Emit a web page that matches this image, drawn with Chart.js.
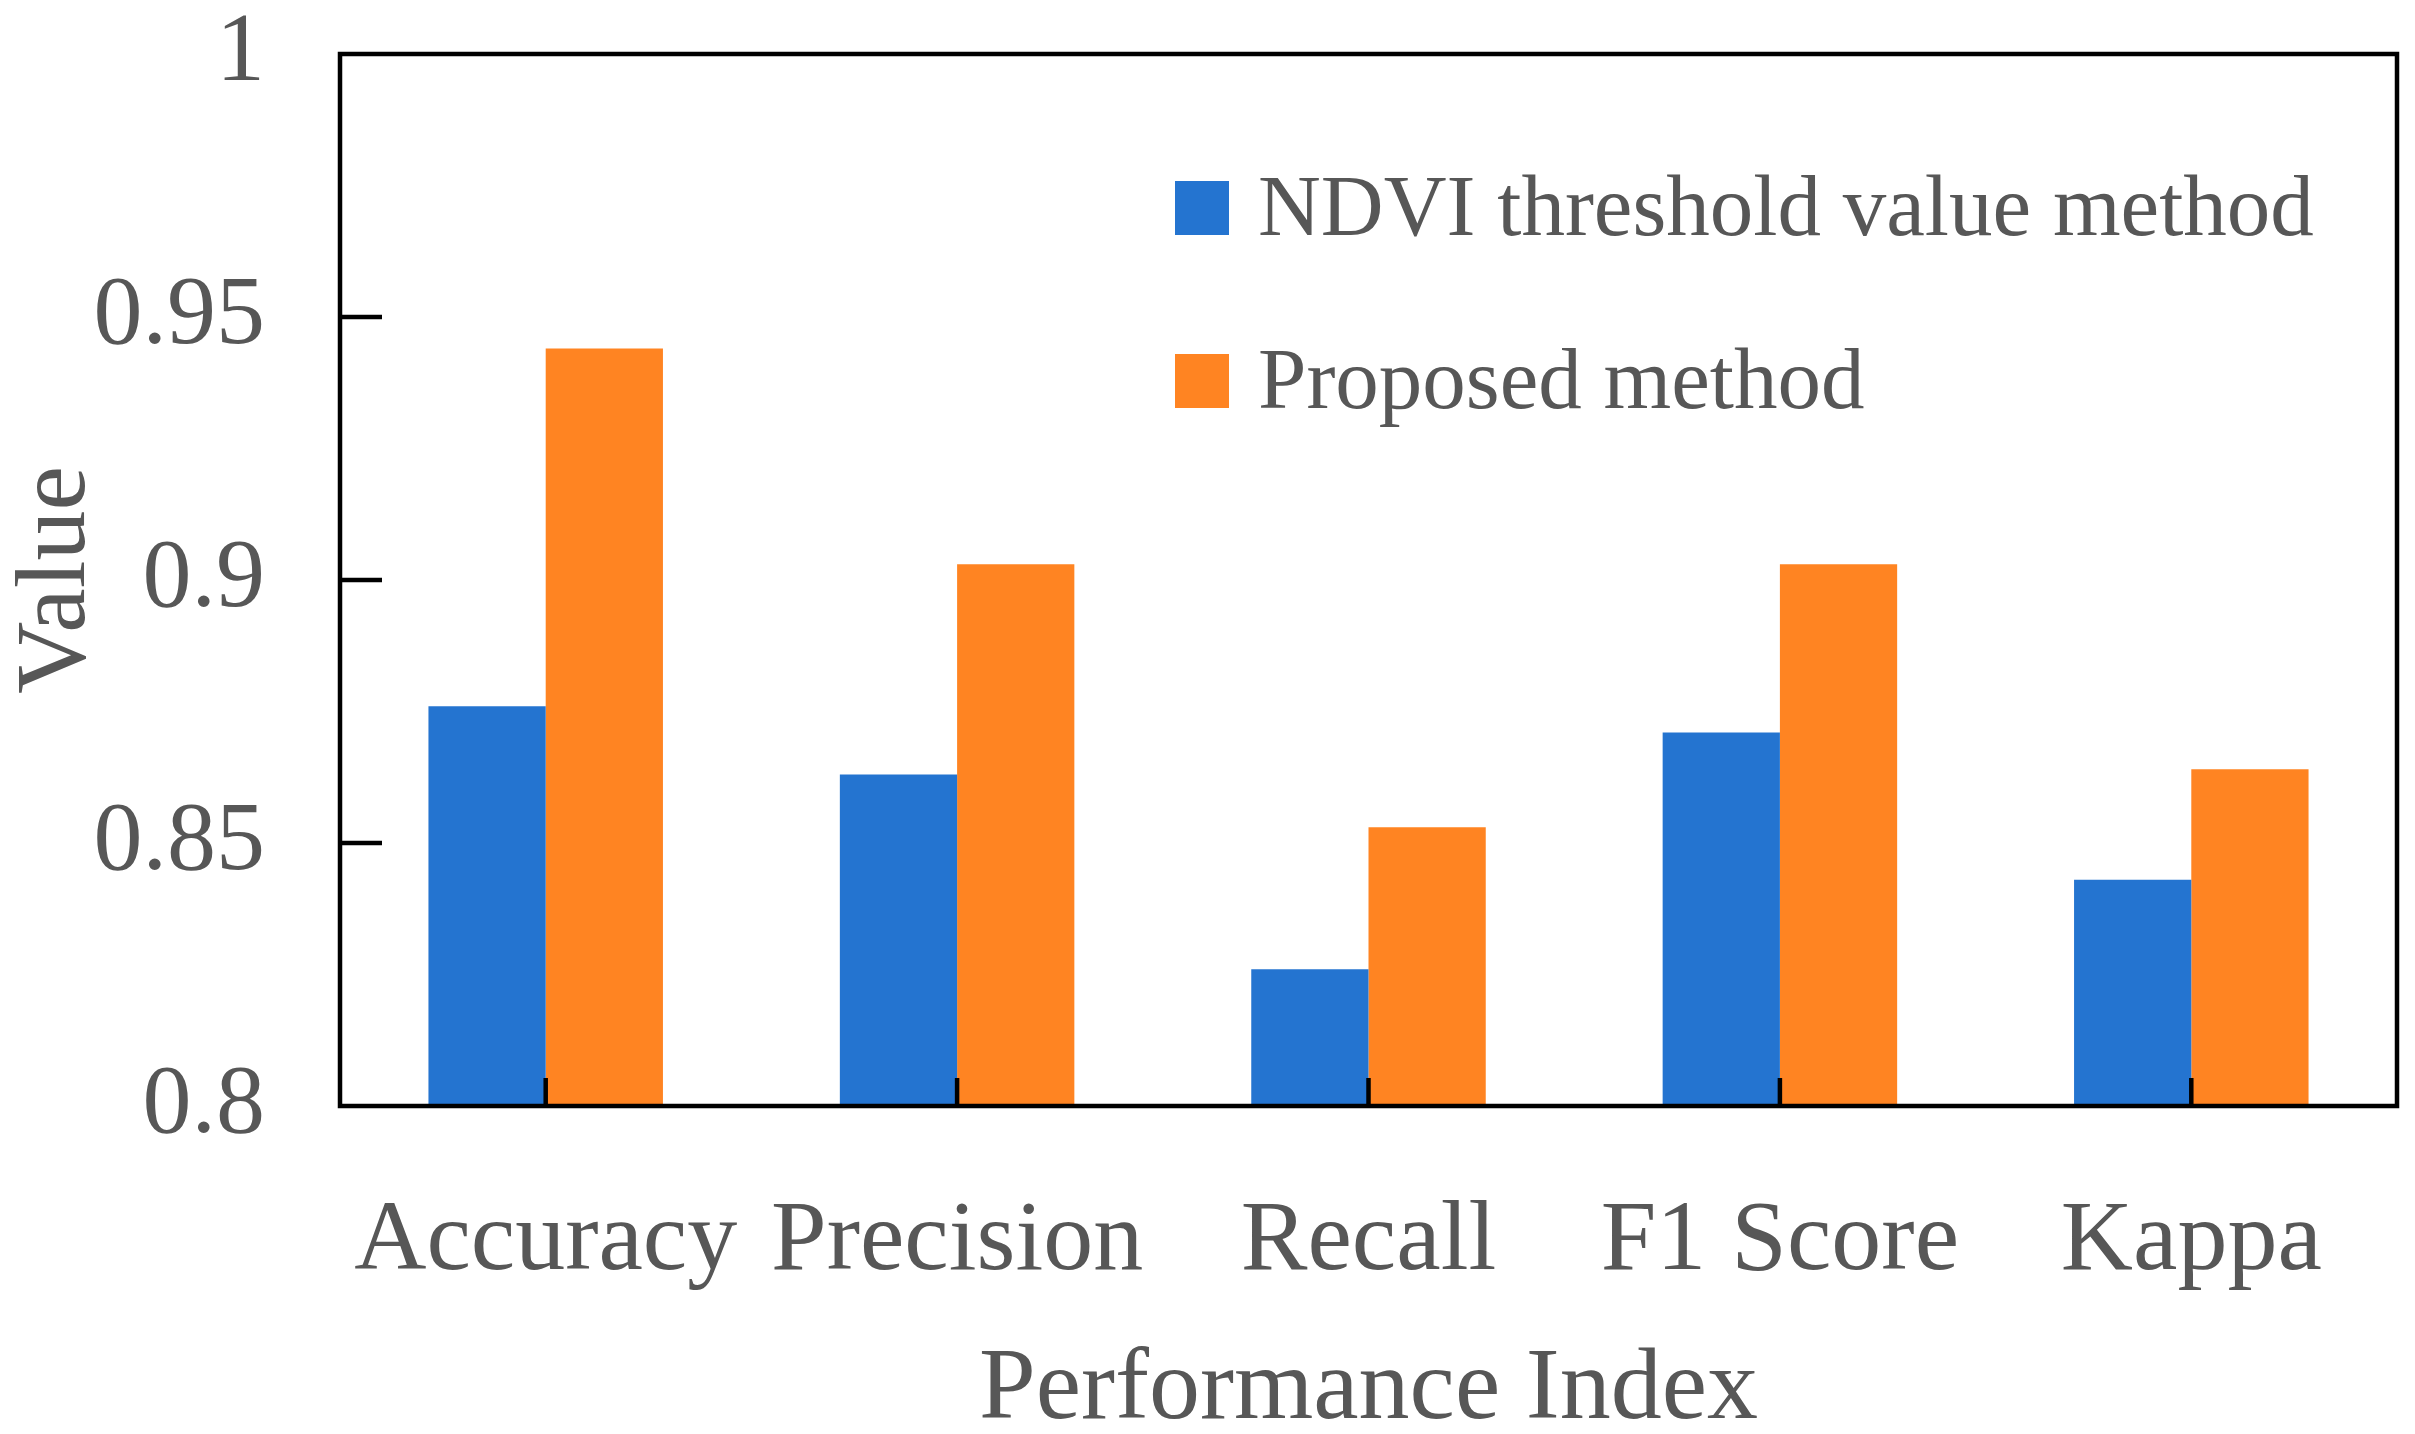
<!DOCTYPE html>
<html>
<head>
<meta charset="utf-8">
<script src="https://cdn.jsdelivr.net/npm/chart.js@4.4.1/dist/chart.umd.min.js"></script>
<style>
  html, body { margin: 0; padding: 0; background: #fff; }
  canvas { display: block; }
</style>
</head>
<body>
<canvas id="myChart" width="2415" height="1434"></canvas>
<script>
// données
const categories = ['Accuracy', 'Precision', 'Recall', 'F1 Score', 'Kappa'];
const ndviValues = [0.876, 0.863, 0.826, 0.871, 0.843];
const proposedValues = [0.944, 0.903, 0.853, 0.903, 0.864];
const seriesNames = ['NDVI threshold value method', 'Proposed method'];
const yTickLabels = ['0.8', '0.85', '0.9', '0.95', '1'];

const textColor = '#575757';
const serif = "'Liberation Serif', 'Times New Roman', serif";

// cadre noir + graduations vers l'intérieur
const frameTicks = {
    id: 'frameTicks',
    afterDatasetsDraw(chart) {
        const ctx = chart.ctx;
        const a = chart.chartArea;
        const x = chart.scales.x;
        const y = chart.scales.y;
        ctx.save();
        ctx.strokeStyle = '#000';
        ctx.lineWidth = 4.5;
        ctx.strokeRect(a.left, a.top, a.right - a.left, a.bottom - a.top);
        ctx.beginPath();
        y.ticks.forEach(t => {
            if (t.value <= y.min || t.value >= y.max) return;
            let py = y.getPixelForValue(t.value);
            ctx.moveTo(a.left, py);
            ctx.lineTo(a.left + 42, py);
        });
        categories.forEach((c, i) => {
            let px = x.getPixelForValue(i);
            ctx.moveTo(px, a.bottom);
            ctx.lineTo(px, a.bottom - 28);
        });
        ctx.stroke();
        ctx.restore();
    }
};

// légende dans la zone du graphique
const innerLegend = {
    id: 'innerLegend',
    afterDraw(chart) {
        const ctx = chart.ctx;
        const boxX = 1175, boxSize = 54, textX = 1258;
        const rowsY = [208, 381];
        ctx.save();
        ctx.font = '87px ' + serif;
        ctx.textBaseline = 'middle';
        ctx.textAlign = 'left';
        chart.data.datasets.forEach((ds, i) => {
            ctx.fillStyle = ds.backgroundColor;
            ctx.fillRect(boxX, rowsY[i] - boxSize / 2, boxSize, boxSize);
            ctx.fillStyle = textColor;
            ctx.fillText(ds.label, textX, rowsY[i] + 4);
        });
        ctx.restore();
    }
};

let ctx = document.getElementById('myChart').getContext('2d');
new Chart(ctx, {
    type: 'bar',
    data: {
        labels: categories,
        datasets: [{
            label: seriesNames[0],
            data: ndviValues,
            backgroundColor: '#2474D0',
            barPercentage: 1,
            categoryPercentage: 0.57
        }, {
            label: seriesNames[1],
            data: proposedValues,
            backgroundColor: '#FF8422',
            barPercentage: 1,
            categoryPercentage: 0.57
        }]
    },
    options: {
        responsive: false,
        animation: false,
        devicePixelRatio: 1,
        layout: { padding: { top: 54, right: 18, left: 0, bottom: 0 } },
        plugins: {
            legend: { display: false },
            tooltip: { enabled: false }
        },
        scales: {
            x: {
                grid: { display: false, drawTicks: false, tickLength: 0 },
                border: { display: false },
                ticks: {
                    color: textColor,
                    font: { family: serif, size: 100, lineHeight: 1 },
                    padding: 87,
                    maxRotation: 0,
                    autoSkip: false
                },
                title: {
                    display: true,
                    text: 'Performance Index',
                    color: textColor,
                    font: { family: serif, size: 102, lineHeight: 1 },
                    padding: { top: 0, bottom: -8 }
                },
                afterFit(scale) {
                    scale.height = 328;
                    scale.paddingLeft = 0;
                    scale.paddingRight = 0;
                }
            },
            y: {
                min: 0.8,
                max: 1,
                grid: { display: false, drawTicks: false, tickLength: 0 },
                border: { display: false },
                ticks: {
                    stepSize: 0.05,
                    color: textColor,
                    font: { family: serif, size: 98, lineHeight: 1 },
                    padding: 75,
                    callback: (v, i) => yTickLabels[i]
                },
                title: {
                    display: true,
                    text: 'Value',
                    color: textColor,
                    font: { family: serif, size: 100, lineHeight: 1 },
                    padding: { top: 8, bottom: 0 }
                },
                afterFit(scale) {
                    scale.width = 340;
                    scale.paddingTop = 0;
                    scale.paddingBottom = 0;
                }
            }
        }
    },
    plugins: [frameTicks, innerLegend]
});
</script>
</body>
</html>
